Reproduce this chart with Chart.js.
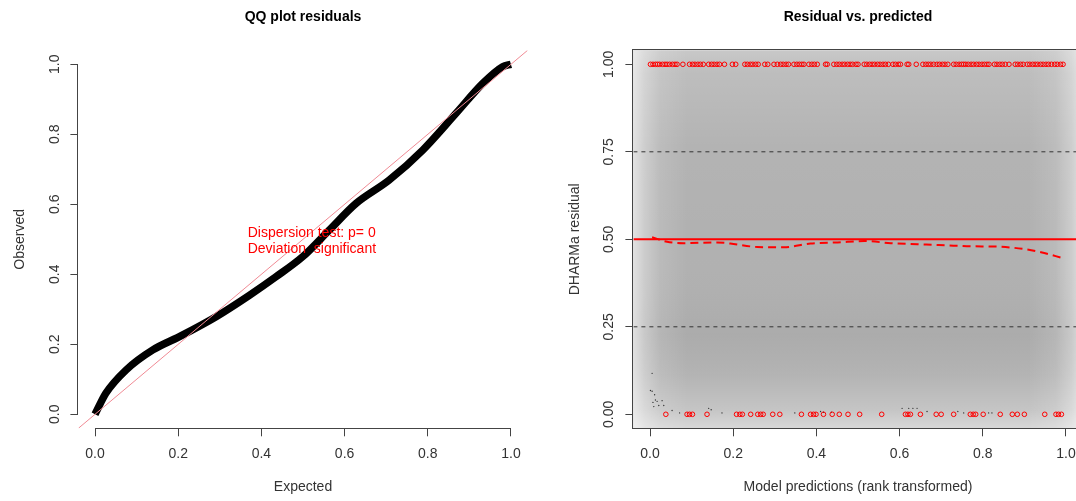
<!DOCTYPE html>
<html><head><meta charset="utf-8">
<script src="https://cdn.jsdelivr.net/npm/chart.js@4/dist/chart.umd.min.js"></script>
<style>
html,body{margin:0;padding:0;width:1076px;height:501px;overflow:hidden;background:#fff;}
#wrap{position:relative;width:1076px;height:501px;overflow:hidden;}
canvas{position:absolute;top:0;}
#c1{left:0}
#c2{left:555px}
</style></head><body>
<div id="wrap"><canvas id="c1" width="555" height="501"></canvas><canvas id="c2" width="555" height="501"></canvas></div>
<script>
// ---------- data: left panel (QQ plot) ----------
const qqExpected = [0.0, 0.026, 0.075, 0.139, 0.203, 0.291, 0.371, 0.435, 0.499, 0.563, 0.627, 0.707, 0.788, 0.868, 0.932, 0.980, 1.0];
const qqObserved = [0.0, 0.060, 0.127, 0.184, 0.222, 0.279, 0.340, 0.393, 0.450, 0.526, 0.602, 0.669, 0.755, 0.860, 0.945, 0.993, 1.0];
const qqTicks = [0, 0.2, 0.4, 0.6, 0.8, 1.0];
const qqText = ["Dispersion test: p= 0", "Deviation  significant"];

// ---------- data: right panel (residual vs predicted) ----------
const predAtOne = [0.001,0.007,0.013,0.018,0.023,0.030,0.036,0.041,0.047,0.054,0.060,0.065,0.079,0.095,0.102,0.108,0.115,0.121,0.128,
  0.141,0.148,0.154,0.161,0.167,0.179,0.198,0.206,0.228,0.234,0.241,0.247,0.254,0.260,0.276,0.283,0.298,0.306,0.314,0.320,0.327,0.333,
  0.346,0.353,0.359,0.365,0.370,0.382,0.389,0.395,0.402,0.422,0.426,0.442,0.449,0.455,0.462,0.468,0.475,0.481,0.487,0.495,0.500,
  0.515,0.521,0.528,0.534,0.540,0.547,0.553,0.560,0.566,0.573,0.584,0.590,0.597,0.602,0.618,0.622,0.640,0.656,0.663,0.669,0.675,0.682,
  0.690,0.696,0.703,0.709,0.716,0.730,0.736,0.743,0.749,0.754,0.759,0.765,0.772,0.778,0.785,0.791,0.798,0.804,0.810,0.815,0.828,0.834,
  0.841,0.847,0.854,0.863,0.878,0.884,0.891,0.897,0.907,0.913,0.920,0.926,0.932,0.939,0.945,0.952,0.958,0.965,0.973,0.979,0.987,0.993];
const predAtZero = [0.038,0.089,0.095,0.102,0.137,0.208,0.216,0.222,0.242,0.259,0.266,0.272,0.295,0.312,0.364,0.386,0.393,0.399,0.417,
  0.438,0.455,0.476,0.504,0.557,0.614,0.620,0.626,0.650,0.688,0.700,0.730,0.770,0.777,0.783,0.801,0.842,0.871,0.883,0.900,0.949,0.976,0.982,0.989];
const lowDotX = [0.005,0.001,0.005,0.011,0.013,0.007,0.017,0.009,0.021,0.029,0.033,0.053,0.071,0.141,0.147,0.173,0.348,0.410,0.417,0.436,
  0.606,0.622,0.632,0.642,0.666,0.740,0.754,0.814,0.822];
const lowDotY = [0.117,0.068,0.066,0.056,0.041,0.034,0.037,0.022,0.025,0.039,0.025,0.011,0.004,0.017,0.013,0.004,0.004,0.008,0.006,0.006,
  0.017,0.017,0.017,0.017,0.008,0.008,0.004,0.004,0.004];
const smoothX = [0.005,0.041,0.081,0.161,0.193,0.258,0.322,0.386,0.451,0.515,0.579,0.643,0.708,0.772,0.836,0.900,0.940,0.993];
const smoothY = [0.506,0.493,0.489,0.491,0.488,0.478,0.477,0.488,0.491,0.495,0.489,0.486,0.483,0.480,0.479,0.472,0.463,0.446];
const quantiles = [0.25, 0.5, 0.75];
const resTicks = [0, 0.25, 0.5, 0.75, 1.0];
const predTicks = [0, 0.2, 0.4, 0.6, 0.8, 1.0];

// ---------- common ----------
const FAM = '"Liberation Sans", Arial, sans-serif';
const AXIS = [-0.04, 1.04];
const AXCOL = '#444';
const TXT = '#333';

function xScale(title, ticks, fmt) {
  return {
    type: 'linear', min: AXIS[0], max: AXIS[1],
    afterBuildTicks: s => { s.ticks = ticks.map(v => ({value: v})); },
    afterFit: s => { s.height = 72.7; },
    grid: {drawOnChartArea: false, drawTicks: true, tickLength: 8, color: AXCOL, lineWidth: 1},
    border: {display: false},
    ticks: {padding: 9.5, color: TXT, font: {family: FAM, size: 14}, maxRotation: 0, minRotation: 0, autoSkip: false,
            callback: v => fmt(v)},
    title: {display: true, text: title, color: TXT, font: {family: FAM, size: 14}, padding: {top: 0, bottom: 5}}
  };
}
function yScale(title, ticks, fmt, pad) {
  return {
    type: 'linear', min: AXIS[0], max: AXIS[1],
    afterBuildTicks: s => { s.ticks = ticks.map(v => ({value: v})); },
    afterFit: s => { s.width = 78.4; },
    grid: {drawOnChartArea: false, drawTicks: true, tickLength: 8, color: AXCOL, lineWidth: 1},
    border: {display: false},
    ticks: {padding: pad, color: TXT, font: {family: FAM, size: 14}, minRotation: 90, maxRotation: 90,
            crossAlign: 'center', autoSkip: false, callback: v => fmt(v)},
    title: {display: true, text: title, color: TXT, font: {family: FAM, size: 14}, padding: {top: 12, bottom: 0}}
  };
}
const titlePlugin = {
  id: 'mainTitle',
  afterDraw(chart, args, opts) {
    const {ctx, chartArea} = chart;
    ctx.save();
    ctx.font = 'bold 14px ' + FAM;
    ctx.fillStyle = '#000';
    ctx.textAlign = 'center';
    ctx.textBaseline = 'middle';
    ctx.fillText(opts.text, (chartArea.left + chartArea.right) / 2, 17);
    ctx.restore();
  }
};
const baseOpts = {
  responsive: false, animation: false, devicePixelRatio: 1,
  layout: {padding: {top: 50.3, right: 27.4, left: 0, bottom: 0}},
  plugins: {legend: {display: false}, tooltip: {enabled: false}, title: {display: false}}
};

// ---------- left chart ----------
new Chart(document.getElementById('c1'), {
  type: 'scatter',
  data: {
    datasets: [
      {label: 'identity', type: 'line', data: AXIS.map(v => ({x: v, y: v})), borderColor: '#f08a94', borderWidth: 1,
       pointRadius: 0, fill: false, order: 0},
      {label: 'qq', type: 'line', data: qqExpected.map((e, i) => ({x: e, y: qqObserved[i]})),
       borderColor: '#000', borderWidth: 7.5, cubicInterpolationMode: 'monotone', fill: false,
       pointRadius: 0, borderCapStyle: 'butt', borderJoinStyle: 'round', order: 1}
    ]
  },
  options: Object.assign({}, baseOpts, {
    scales: {
      x: xScale('Expected', qqTicks, v => v.toFixed(1)),
      y: yScale('Observed', qqTicks, v => v.toFixed(1), 6)
    },
    plugins: Object.assign({}, baseOpts.plugins, {mainTitle: {text: 'QQ plot residuals'}})
  }),
  plugins: [titlePlugin, {
    id: 'axesAndText',
    afterDraw(chart) {
      const {ctx, chartArea, scales} = chart;
      const x = scales.x, y = scales.y;
      ctx.save();
      ctx.strokeStyle = AXCOL; ctx.lineWidth = 1;
      const by = Math.round(chartArea.bottom) + 0.5;
      const lx = Math.round(chartArea.left) - 0.5;
      ctx.beginPath();
      ctx.moveTo(x.getPixelForValue(qqTicks[0]), by); ctx.lineTo(x.getPixelForValue(qqTicks[qqTicks.length - 1]), by);
      ctx.moveTo(lx, y.getPixelForValue(qqTicks[0])); ctx.lineTo(lx, y.getPixelForValue(qqTicks[qqTicks.length - 1]));
      ctx.stroke();
      ctx.font = '14px ' + FAM;
      ctx.fillStyle = '#ff0000';
      ctx.textAlign = 'left'; ctx.textBaseline = 'middle';
      const tx = x.getPixelForValue(0.367), ty = y.getPixelForValue(0.5) + 1.7;
      ctx.fillText(qqText[0], tx, ty - 8.3);
      ctx.fillText(qqText[1], tx, ty + 8.3);
      ctx.restore();
    }
  }]
});

// ---------- right chart ----------
const densityPlugin = {
  id: 'density',
  beforeDatasetsDraw(chart) {
    const {ctx, chartArea: a} = chart;
    const w = a.right - a.left, h = a.bottom - a.top;
    ctx.save();
    ctx.fillStyle = '#b1b1b1';
    ctx.fillRect(a.left, a.top, w, h);
    let g = ctx.createLinearGradient(0, a.top, 0, a.bottom);
    g.addColorStop(0, 'rgba(255,255,255,0.30)');
    g.addColorStop(0.06, 'rgba(255,255,255,0.16)');
    g.addColorStop(0.25, 'rgba(255,255,255,0.03)');
    g.addColorStop(0.5, 'rgba(255,255,255,0.0)');
    g.addColorStop(0.75, 'rgba(0,0,0,0.03)');
    g.addColorStop(0.86, 'rgba(255,255,255,0.04)');
    g.addColorStop(0.95, 'rgba(255,255,255,0.25)');
    g.addColorStop(1, 'rgba(255,255,255,0.50)');
    ctx.fillStyle = g; ctx.fillRect(a.left, a.top, w, h);
    g = ctx.createLinearGradient(a.left, 0, a.right, 0);
    g.addColorStop(0, 'rgba(255,255,255,0.62)');
    g.addColorStop(0.025, 'rgba(255,255,255,0.35)');
    g.addColorStop(0.06, 'rgba(255,255,255,0.12)');
    g.addColorStop(0.12, 'rgba(255,255,255,0.0)');
    g.addColorStop(0.88, 'rgba(255,255,255,0.0)');
    g.addColorStop(0.94, 'rgba(255,255,255,0.12)');
    g.addColorStop(0.975, 'rgba(255,255,255,0.35)');
    g.addColorStop(1, 'rgba(255,255,255,0.62)');
    ctx.fillStyle = g; ctx.fillRect(a.left, a.top, w, h);
    ctx.restore();
  },
  afterDraw(chart) {
    const {ctx, chartArea: a} = chart;
    ctx.save();
    ctx.strokeStyle = AXCOL; ctx.lineWidth = 1;
    const l = Math.round(a.left) - 0.5, t = Math.round(a.top) - 0.5;
    const r = Math.round(a.right) + 0.5, b = Math.round(a.bottom) + 0.5;
    ctx.strokeRect(l, t, r - l, b - t);
    ctx.restore();
  }
};

const refSets = quantiles.map(q => ({
  label: 'q' + q, type: 'line', data: AXIS.map(v => ({x: v, y: q})),
  borderColor: q === 0.5 ? '#ff0000' : '#333', borderWidth: q === 0.5 ? 2 : 1,
  borderDash: q === 0.5 ? [] : [4, 4], pointRadius: 0, fill: false, order: 1
}));

new Chart(document.getElementById('c2'), {
  type: 'scatter',
  data: {
    datasets: [
      {label: 'smooth', type: 'line', data: smoothX.map((x, i) => ({x, y: smoothY[i]})), borderColor: '#ff0000',
       borderWidth: 2, borderDash: [8, 5], cubicInterpolationMode: 'monotone', pointRadius: 0, fill: false, order: 0},
      ...refSets,
      {label: 'one', data: predAtOne.map(x => ({x, y: 1})), pointRadius: 2.3, borderWidth: 1,
       pointBorderColor: '#ff0000', pointBackgroundColor: 'rgba(0,0,0,0)', order: 2},
      {label: 'zero', data: predAtZero.map(x => ({x, y: 0})), pointRadius: 2.3, borderWidth: 1,
       pointBorderColor: '#ff0000', pointBackgroundColor: 'rgba(0,0,0,0)', order: 2},
      {label: 'low', data: lowDotX.map((x, i) => ({x, y: lowDotY[i]})), pointRadius: 0.7, borderWidth: 0,
       pointBackgroundColor: '#333', pointBorderColor: '#333', order: 3}
    ]
  },
  options: Object.assign({}, baseOpts, {
    scales: {
      x: xScale('Model predictions (rank transformed)', predTicks, v => v.toFixed(1)),
      y: yScale('DHARMa residual', resTicks, v => v.toFixed(2), 3)
    },
    plugins: Object.assign({}, baseOpts.plugins, {mainTitle: {text: 'Residual vs. predicted'}})
  }),
  plugins: [densityPlugin, titlePlugin]
});
</script>
</body></html>
